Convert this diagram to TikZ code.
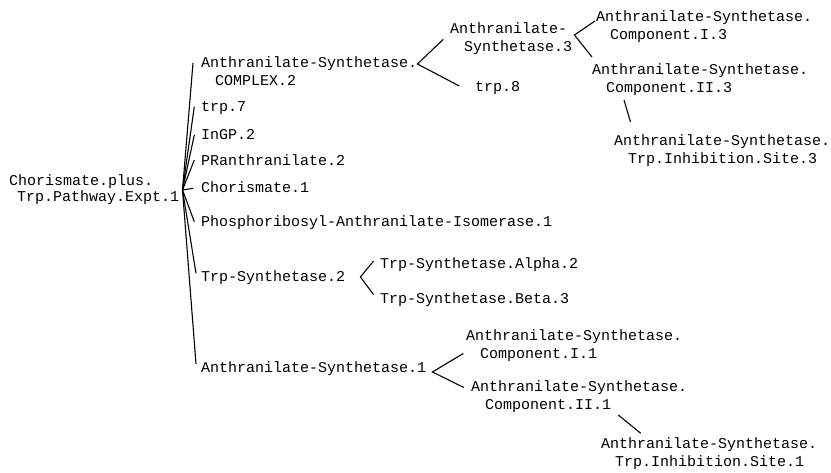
\documentclass[tikz,border=0pt]{standalone}
\usepackage{fontspec}
\setmonofont{Liberation Mono}
\usepackage{tikz}

\newcommand{\lblindent}{\hspace*{14pt}}

\tikzset{
  lbl/.style={anchor=base west, inner sep=0pt, align=left},
  edge/.style={line width=1.1pt}
}

\begin{document}
\begin{tikzpicture}[x=1pt, y=-1pt, font=\ttfamily\fontsize{15}{18}\selectfont]
        \useasboundingbox (0,0) rectangle (831,472);
        % root (two-line nodes sit on their last baseline)
        \node[lbl] (root) at (9,201.7) {Chorismate.plus.\\[-2pt]\hspace*{8pt}Trp.Pathway.Expt.1};
        % first level
        \node[lbl] (asc2) at (201,85) {Anthranilate-Synthetase.\\\lblindent COMPLEX.2};
        \node[lbl] (trp7) at (201,111) {trp.7};
        \node[lbl] (ingp2) at (201,139.3) {InGP.2};
        \node[lbl] (prant2) at (201,165.7) {PRanthranilate.2};
        \node[lbl] (chor1) at (201,192.7) {Chorismate.1};
        \node[lbl] (pai1) at (201,226.7) {Phosphoribosyl-Anthranilate-Isomerase.1};
        \node[lbl] (ts2) at (201,281.7) {Trp-Synthetase.2};
        \node[lbl] (as1) at (201,372.5) {Anthranilate-Synthetase.1};
        % under the complex
        \node[lbl] (as3) at (450,51.5) {Anthranilate-\\\lblindent Synthetase.3};
        \node[lbl] (trp8) at (475,91.7) {trp.8};
        \node[lbl] (asci3) at (596,39.5) {Anthranilate-Synthetase.\\\lblindent Component.I.3};
        \node[lbl] (ascii3) at (592,92) {Anthranilate-Synthetase.\\\lblindent Component.II.3};
        \node[lbl] (astis3) at (614,163) {Anthranilate-Synthetase.\\\lblindent Trp.Inhibition.Site.3};
        % under Trp-Synthetase.2
        \node[lbl] (tsa2) at (380,268.3) {Trp-Synthetase.Alpha.2};
        \node[lbl] (tsb3) at (380,303.3) {Trp-Synthetase.Beta.3};
        % under Anthranilate-Synthetase.1
        \node[lbl] (asci1) at (466,358) {Anthranilate-Synthetase.\\\lblindent Component.I.1};
        \node[lbl] (ascii1) at (471,409.5) {Anthranilate-Synthetase.\\\lblindent Component.II.1};
        \node[lbl] (astis1) at (601,466.3) {Anthranilate-Synthetase.\\\lblindent Trp.Inhibition.Site.1};

        % fan out of the root
        \coordinate (hub) at ([shift={(173.5,-11.7)}]root.base west);
        \foreach \n/\dx/\dy in {asc2/-8/-22, trp7/-6.7/-4.3, ingp2/-6.7/-4.3, prant2/-6.7/-5.7,
                                chor1/-7.7/-4.4, pai1/-6.7/-5, ts2/-5/-8.4, as1/-5/-8.5}
          \draw[edge] (hub) -- ([shift={(\dx,\dy)}]\n.base west);

        % the complex
        \coordinate (v1) at ([shift={(0,-21)}]asc2.base east);
        \draw[edge] ([shift={(-6.7,-12.2)}]as3.base west) -- (v1) -- ([shift={(-15.7,-5.7)}]trp8.base west);
        \coordinate (v2) at ([shift={(2,-16.5)}]as3.base east);
        \draw[edge] ([shift={(-1,-18.5)}]asci3.base west) -- (v2) -- ([shift={(0,-35)}]ascii3.base west);
        \draw[edge] ([shift={(32,8)}]ascii3.base west) -- ([shift={(16.5,-41)}]astis3.base west);

        % Trp-Synthetase.2
        \coordinate (v3) at ([shift={(15,-4.7)}]ts2.base east);
        \draw[edge] ([shift={(-6.5,-7.3)}]tsa2.base west) -- (v3) -- ([shift={(-6.5,-8.8)}]tsb3.base west);

        % Anthranilate-Synthetase.1
        \coordinate (v4) at ([shift={(6,-0.5)}]as1.base east);
        \draw[edge] ([shift={(-2.7,-4.5)}]asci1.base west) -- (v4) -- ([shift={(-7.2,-22)}]ascii1.base west);
        \draw[edge] ([shift={(147.3,5.5)}]ascii1.base west) -- ([shift={(39.7,-33)}]astis1.base west);
      \end{tikzpicture}
\end{document}
